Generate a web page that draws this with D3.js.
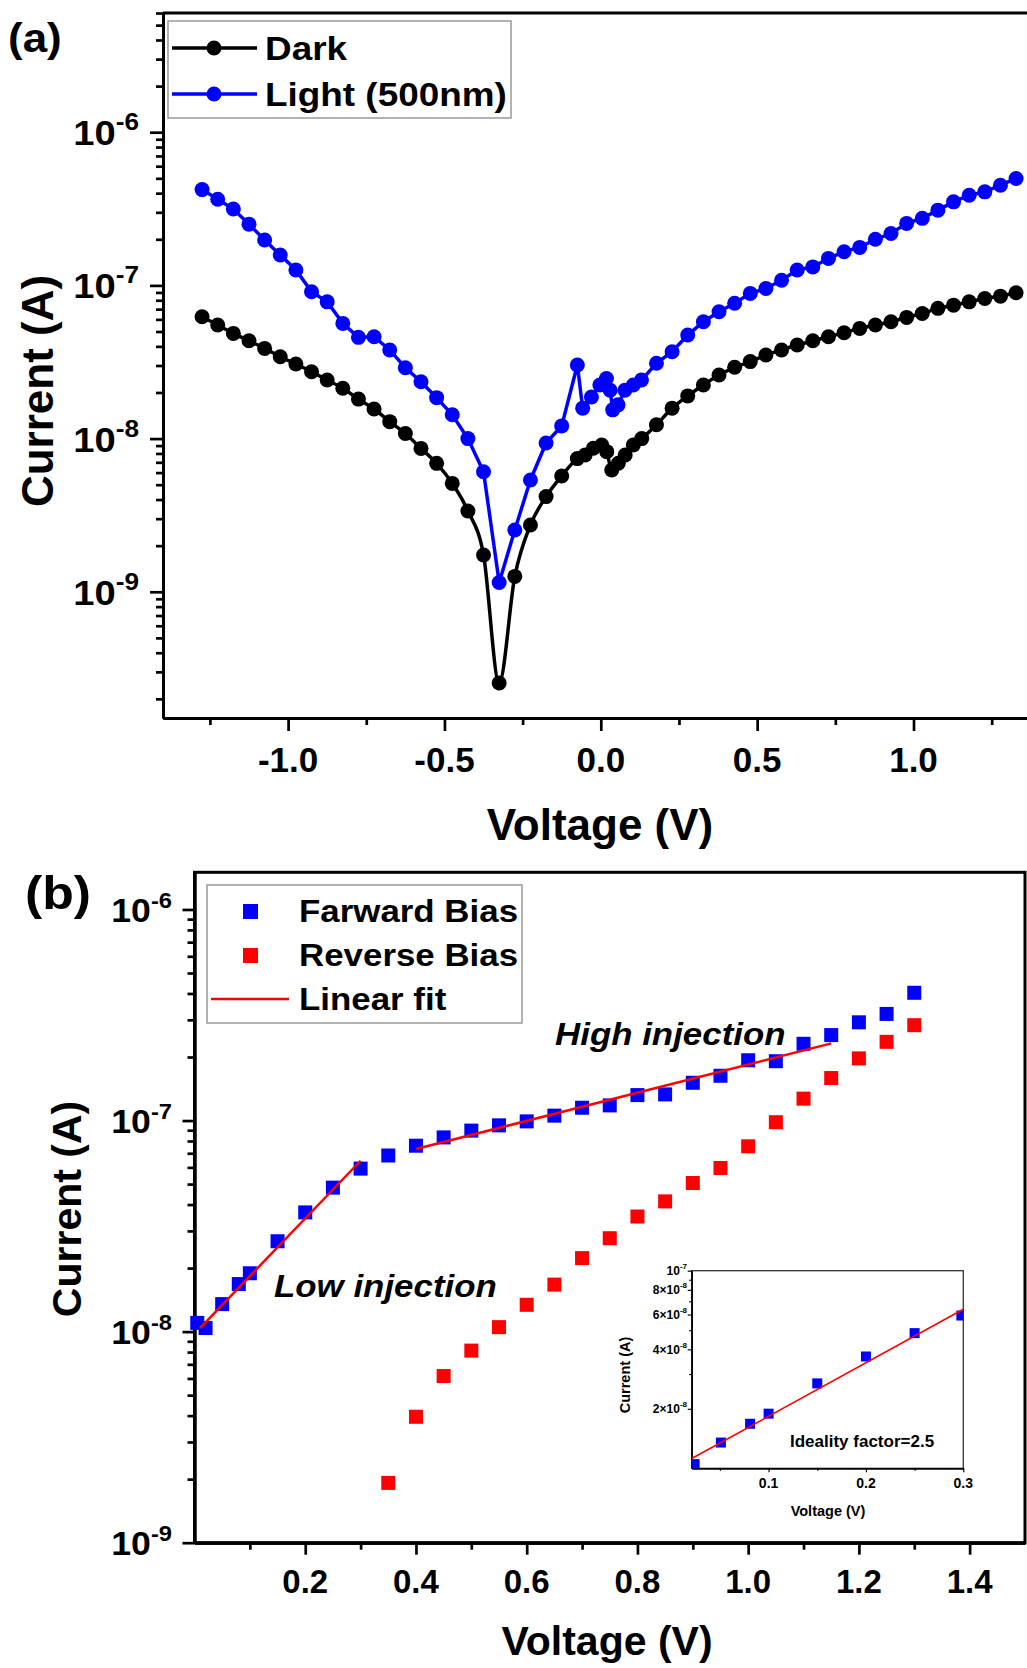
<!DOCTYPE html>
<html>
<head>
<meta charset="utf-8">
<script src="https://cdn.jsdelivr.net/npm/d3@7"></script>
<style>
  body { margin: 0; background: #fff; }
  svg { display: block; font-family: "Liberation Sans", Arial, sans-serif; font-weight: bold; }
</style>
</head>
<body>
<script>
// ---- panel (a): dark / light I-V sweep ----
const darkV = [-1.275,-1.225,-1.175,-1.125,-1.075,-1.025,-0.975,-0.925,-0.875,-0.825,-0.775,-0.725,-0.675,-0.625,-0.575,-0.525,-0.475,-0.425,-0.375,-0.325,
  -0.275,-0.225,-0.175,-0.125,-0.075,-0.05,-0.024,0.003,0.019,0.035,0.056,0.078,0.104,0.131,
  0.178,0.228,0.278,0.328,0.378,0.428,0.478,0.528,0.578,0.628,0.678,0.728,0.778,0.828,0.878,0.928,0.978,1.028,1.078,1.128,1.178,1.228,1.278,1.328];
const darkI = [6.24e-8,5.51e-8,4.86e-8,4.35e-8,3.88e-8,3.42e-8,3.07e-8,2.73e-8,2.41e-8,2.13e-8,1.81e-8,1.56e-8,1.29e-8,1.08e-8,8.63e-9,6.89e-9,5.10e-9,3.37e-9,1.74e-9,2.54e-10,
  1.26e-9,2.73e-9,4.18e-9,5.70e-9,7.4e-9,7.81e-9,8.65e-9,9.09e-9,8.22e-9,6.24e-9,6.90e-9,7.81e-9,9.09e-9,1.00e-8,
  1.23e-8,1.58e-8,1.90e-8,2.24e-8,2.60e-8,2.92e-8,3.18e-8,3.51e-8,3.79e-8,4.08e-8,4.35e-8,4.62e-8,4.91e-8,5.24e-8,5.51e-8,5.79e-8,6.18e-8,6.56e-8,7.08e-8,7.43e-8,7.81e-8,8.22e-8,8.51e-8,8.95e-8];

const lightV = [-1.275,-1.225,-1.175,-1.125,-1.075,-1.025,-0.975,-0.925,-0.875,-0.825,-0.775,-0.725,-0.675,-0.625,-0.575,-0.525,-0.475,-0.425,-0.375,-0.325,
  -0.275,-0.225,-0.175,-0.125,-0.075,-0.058,-0.03,-0.003,0.018,0.03,0.038,0.055,0.077,0.104,0.13,
  0.178,0.228,0.278,0.328,0.378,0.428,0.478,0.528,0.578,0.628,0.678,0.728,0.778,0.828,0.878,0.928,0.978,1.028,1.078,1.128,1.178,1.228,1.278,1.328];
const lightI = [4.22e-7,3.65e-7,3.15e-7,2.51e-7,1.98e-7,1.58e-7,1.26e-7,9.09e-8,7.81e-8,5.65e-8,4.58e-8,4.62e-8,3.79e-8,2.90e-8,2.35e-8,1.85e-8,1.43e-8,1.00e-8,6.08e-9,1.15e-9,
  2.53e-9,5.37e-9,9.35e-9,1.21e-8,3.02e-8,1.58e-8,1.87e-8,2.24e-8,2.47e-8,2.07e-8,1.54e-8,1.66e-8,2.07e-8,2.24e-8,2.41e-8,
  3.10e-8,3.69e-8,4.74e-8,5.79e-8,6.73e-8,7.64e-8,8.87e-8,9.55e-8,1.08e-7,1.26e-7,1.32e-7,1.50e-7,1.66e-7,1.77e-7,2.00e-7,2.18e-7,2.54e-7,2.74e-7,3.10e-7,3.51e-7,3.88e-7,4.08e-7,4.51e-7,4.99e-7];

const xTicksA = [-1.0, -0.5, 0.0, 0.5, 1.0];
const xMinorA = [-1.25, -0.75, -0.25, 0.25, 0.75, 1.25];
const yTicksA = [1e-9, 1e-8, 1e-7, 1e-6];

// ---- panel (b): forward / reverse bias ----
const forwardV = [0.005,0.02,0.05,0.08,0.1,0.15,0.2,0.25,0.3,0.35,0.4,0.45,0.5,0.55,0.6,0.65,0.7,0.75,0.8,0.85,0.9,0.95,1.0,1.05,1.1,1.15,1.2,1.25,1.3];
const forwardI = [1.1e-8,1.04e-8,1.35e-8,1.68e-8,1.89e-8,2.68e-8,3.67e-8,4.81e-8,5.92e-8,6.83e-8,7.60e-8,8.32e-8,8.96e-8,9.49e-8,9.91e-8,1.055e-7,1.15e-7,1.18e-7,1.32e-7,1.33e-7,1.51e-7,1.63e-7,1.93e-7,1.91e-7,2.31e-7,2.54e-7,2.92e-7,3.20e-7,4.03e-7];
const reverseV = [0.35,0.4,0.45,0.5,0.55,0.6,0.65,0.7,0.75,0.8,0.85,0.9,0.95,1.0,1.05,1.1,1.15,1.2,1.25,1.3];
const reverseI = [1.92e-9,3.95e-9,6.16e-9,8.13e-9,1.05e-8,1.34e-8,1.67e-8,2.23e-8,2.77e-8,3.51e-8,4.14e-8,5.06e-8,5.96e-8,7.55e-8,9.82e-8,1.27e-7,1.59e-7,1.97e-7,2.36e-7,2.83e-7];
const lowFitV = [0.01, 0.3];
const lowFitI = [1.04e-8, 6.45e-8];
const highFitV = [0.40, 1.15];
const highFitI = [7.33e-8, 2.32e-7];

const xTicksB = [0.2, 0.4, 0.6, 0.8, 1.0, 1.2, 1.4];
const xMinorB = [0.1, 0.3, 0.5, 0.7, 0.9, 1.1, 1.3];
const yTicksB = [1e-9, 1e-8, 1e-7, 1e-6];

// ---- inset ----
const insetV = [0.024,0.051,0.081,0.1,0.15,0.2,0.25,0.298];
const insetI = [1.05e-8,1.35e-8,1.68e-8,1.89e-8,2.69e-8,3.68e-8,4.83e-8,5.93e-8];
const insetFitV = [0.021, 0.3];
const insetFitI = [1.12e-8, 6.38e-8];
const insetXTicks = [0.1, 0.2, 0.3];
const insetXMinor = [0.05, 0.15, 0.25];
const insetYTicks = [2e-8, 4e-8, 6e-8, 8e-8, 1e-7];
const insetYLabels = [["2×10", "-8"], ["4×10", "-8"], ["6×10", "-8"], ["8×10", "-8"], ["10", "-7"]];

const BLUE = "#0000ff", RED = "#ff0000";
const STRETCH = 1.085; // the figure's lettering is a little wider than Arial

const svg = d3.select("body").append("svg")
    .attr("width", 1027)
    .attr("height", 1668);

// minor ticks of a log axis: 2..9 times each decade inside the domain
function logMinors(domain) {
    const out = [];
    const lo = Math.floor(Math.log10(domain[0])), hi = Math.ceil(Math.log10(domain[1]));
    for (let k = lo; k <= hi; k++) {
        for (let m = 2; m <= 9; m++) {
            const v = m * Math.pow(10, k);
            if (v >= domain[0] && v <= domain[1]) out.push(v);
        }
    }
    return out;
}

function drawAxis(parent, axisMaker, scale, major, minor, bigLen, smallLen, sw) {
    const g1 = parent.append("g")
        .call(axisMaker(scale).tickValues(minor).tickSize(smallLen).tickSizeOuter(0).tickFormat(""));
    const g2 = parent.append("g")
        .call(axisMaker(scale).tickValues(major).tickSize(bigLen).tickSizeOuter(0).tickFormat(""));
    [g1, g2].forEach(g => {
        g.selectAll("path").attr("stroke", "#000").attr("stroke-width", sw);
        g.selectAll("line").attr("stroke", "#000").attr("stroke-width", sw * 0.9);
    });
}

// text stretched horizontally around its anchor point
function wideText(parent, x, y, size, str, sx) {
    return parent.append("text")
        .attr("transform", `translate(${x},${y}) scale(${sx || STRETCH},1)`)
        .style("font-size", size + "px")
        .text(str);
}

function supLabel(parent, x, y, base, sup, size, supSize, rise, sx) {
    const t = parent.append("text")
        .attr("transform", `translate(${x},${y}) scale(${sx},1)`)
        .attr("text-anchor", "end")
        .style("font-size", size + "px");
    t.append("tspan").text(base);
    t.append("tspan").attr("dy", -rise).style("font-size", supSize + "px").text(sup);
}

// =================== Panel (a) ===================
const xA = d3.scaleLinear().domain([-1.4, 1.4]).range([163, 1038.6]);
const yA = d3.scaleLog().domain([1.5e-10, 6e-6]).range([718, 13]);

const gA = svg.append("g");
gA.append("line").attr("x1", 163).attr("x2", 1040).attr("y1", 13).attr("y2", 13)
    .attr("stroke", "#000").attr("stroke-width", 3);

const axA_y = gA.append("g").attr("transform", "translate(163,0)");
drawAxis(axA_y, d3.axisLeft, yA, yTicksA, logMinors(yA.domain()), 13, 7, 3);
const axA_x = gA.append("g").attr("transform", "translate(0,718)");
drawAxis(axA_x, d3.axisBottom, xA, xTicksA, xMinorA, 13, 7, 3);

xTicksA.forEach(v => {
    gA.append("text").attr("x", xA(v)).attr("y", 772)
        .attr("text-anchor", "middle").style("font-size", "35px")
        .text(v.toFixed(1));
});
yTicksA.forEach(v => {
    supLabel(gA, 139, yA(v) + 13, "10", String(Math.round(Math.log10(v))), 35, 24, 15, 1.09);
});

gA.append("text").attr("transform", "translate(53,391) rotate(-90)")
    .attr("text-anchor", "middle").style("font-size", "44px").text("Current (A)");
gA.append("text").attr("x", 600).attr("y", 840)
    .attr("text-anchor", "middle").style("font-size", "44px").text("Voltage (V)");
wideText(gA, 8, 52, 40, "(a)", 1.1);

const lineDark = d3.line().x(i => xA(darkV[i])).y(i => yA(darkI[i])).curve(d3.curveMonotoneX);
const lineLight = d3.line().x(i => xA(lightV[i])).y(i => yA(lightI[i]));

gA.append("path").attr("d", lineDark(d3.range(darkV.length)))
    .attr("fill", "none").attr("stroke", "#000").attr("stroke-width", 3.5);
gA.selectAll("circle.dark").data(d3.range(darkV.length)).enter().append("circle")
    .attr("class", "dark").attr("cx", i => xA(darkV[i])).attr("cy", i => yA(darkI[i]))
    .attr("r", 7.5).attr("fill", "#000");

gA.append("path").attr("d", lineLight(d3.range(lightV.length)))
    .attr("fill", "none").attr("stroke", BLUE).attr("stroke-width", 3.5);
gA.selectAll("circle.light").data(d3.range(lightV.length)).enter().append("circle")
    .attr("class", "light").attr("cx", i => xA(lightV[i])).attr("cy", i => yA(lightI[i]))
    .attr("r", 7.5).attr("fill", BLUE);

// legend (a)
const legA = gA.append("g");
legA.append("rect").attr("x", 168).attr("y", 21).attr("width", 343).attr("height", 97)
    .attr("fill", "#fff").attr("stroke", "#999").attr("stroke-width", 1.5);
[["Dark", "#000", 48, 60], ["Light (500nm)", BLUE, 94, 106]].forEach(([label, col, ly, ty]) => {
    legA.append("line").attr("x1", 172).attr("x2", 257).attr("y1", ly).attr("y2", ly)
        .attr("stroke", col).attr("stroke-width", 3.5);
    legA.append("circle").attr("cx", 214).attr("cy", ly).attr("r", 7.5).attr("fill", col);
    wideText(legA, 265, ty, 34, label);
});

// =================== Panel (b) ===================
const xB = d3.scaleLinear().domain([0, 1.5]).range([194.5, 1025]);
const yB = d3.scaleLog().domain([1e-9, 1.5e-6]).range([1542.7, 872.3]);

const gB = svg.append("g");
gB.append("rect").attr("x", 194.5).attr("y", 872.3).attr("width", 1025 - 194.5).attr("height", 1542.7 - 872.3)
    .attr("fill", "none").attr("stroke", "#000").attr("stroke-width", 3);

const axB_y = gB.append("g").attr("transform", "translate(194.5,0)");
drawAxis(axB_y, d3.axisLeft, yB, yTicksB, logMinors(yB.domain()), 12, 7, 3);
const axB_x = gB.append("g").attr("transform", "translate(0,1542.7)");
drawAxis(axB_x, d3.axisBottom, xB, xTicksB, xMinorB, 12, 7, 3);

xTicksB.forEach(v => {
    gB.append("text").attr("x", xB(v)).attr("y", 1593)
        .attr("text-anchor", "middle").style("font-size", "33px")
        .text(v.toFixed(1));
});
yTicksB.forEach(v => {
    supLabel(gB, 172, yB(v) + 12.5, "10", String(Math.round(Math.log10(v))), 33, 22, 14, 1.08);
});

gB.append("text").attr("transform", "translate(81,1209) rotate(-90)")
    .attr("text-anchor", "middle").style("font-size", "41px").text("Current (A)");
gB.append("text").attr("x", 607).attr("y", 1655)
    .attr("text-anchor", "middle").style("font-size", "41px").text("Voltage (V)");
wideText(gB, 25, 909, 47, "(b)", 1.1);

// squares
const sq = 14;
gB.selectAll("rect.rev").data(d3.range(reverseV.length)).enter().append("rect")
    .attr("class", "rev")
    .attr("x", i => xB(reverseV[i]) - sq / 2).attr("y", i => yB(reverseI[i]) - sq / 2)
    .attr("width", sq).attr("height", sq).attr("fill", RED);
gB.selectAll("rect.fwd").data(d3.range(forwardV.length)).enter().append("rect")
    .attr("class", "fwd")
    .attr("x", i => xB(forwardV[i]) - sq / 2).attr("y", i => yB(forwardI[i]) - sq / 2)
    .attr("width", sq).attr("height", sq).attr("fill", BLUE);

const fitLineB = (vs, is) => d3.line().x(i => xB(vs[i])).y(i => yB(is[i]))(d3.range(vs.length));
gB.append("path").attr("d", fitLineB(lowFitV, lowFitI)).attr("stroke", RED).attr("stroke-width", 2.5).attr("fill", "none");
gB.append("path").attr("d", fitLineB(highFitV, highFitI)).attr("stroke", RED).attr("stroke-width", 2.5).attr("fill", "none");

wideText(gB, 555, 1045, 32, "High injection", 1.09).style("font-style", "italic");
wideText(gB, 274, 1297, 32, "Low injection", 1.09).style("font-style", "italic");

// legend (b)
const legB = gB.append("g");
legB.append("rect").attr("x", 207).attr("y", 885).attr("width", 315).attr("height", 138)
    .attr("fill", "#fff").attr("stroke", "#999").attr("stroke-width", 1.5);
legB.append("rect").attr("x", 243).attr("y", 904).attr("width", 15).attr("height", 15).attr("fill", BLUE);
legB.append("rect").attr("x", 243).attr("y", 948).attr("width", 15).attr("height", 15).attr("fill", RED);
legB.append("line").attr("x1", 211).attr("x2", 289).attr("y1", 999).attr("y2", 999).attr("stroke", RED).attr("stroke-width", 2.5);
[["Farward Bias", 922], ["Reverse Bias", 966], ["Linear fit", 1010]].forEach(([t, y]) => {
    wideText(legB, 299, y, 32, t, 1.09);
});

// =================== Inset ===================
const xI = d3.scaleLinear().domain([0.021, 0.3]).range([691.7, 963.3]);
const yI = d3.scaleLog().domain([1e-8, 1e-7]).range([1468.3, 1270.7]);
const gI = svg.append("g");
gI.append("defs").append("clipPath").attr("id", "insetClip")
    .append("rect").attr("x", 691.7).attr("y", 1270.7).attr("width", 963.3 - 691.7).attr("height", 1468.3 - 1270.7);
gI.append("rect").attr("x", 691.7).attr("y", 1270.7).attr("width", 963.3 - 691.7).attr("height", 1468.3 - 1270.7)
    .attr("fill", "#fff").attr("stroke", "#333").attr("stroke-width", 1.3);

const axI_y = gI.append("g").attr("transform", "translate(691.7,0)");
drawAxis(axI_y, d3.axisLeft, yI, insetYTicks, [3e-8, 5e-8, 7e-8, 9e-8], 4, 2.5, 1.3);
const axI_x = gI.append("g").attr("transform", "translate(0,1468.3)");
drawAxis(axI_x, d3.axisBottom, xI, insetXTicks, insetXMinor, 4, 2.5, 1.3);

insetXTicks.forEach(v => {
    gI.append("text").attr("x", xI(v)).attr("y", 1488).attr("text-anchor", "middle")
        .style("font-size", "14px").text(v.toFixed(1));
});
insetYTicks.forEach((v, k) => {
    supLabel(gI, 687, yI(v) + 4.5, insetYLabels[k][0], insetYLabels[k][1], 12, 8, 6, 1);
});
gI.append("text").attr("x", 828).attr("y", 1516).attr("text-anchor", "middle")
    .style("font-size", "14.5px").text("Voltage (V)");
gI.append("text").attr("transform", "translate(630,1375) rotate(-90)").attr("text-anchor", "middle")
    .style("font-size", "14.5px").text("Current (A)");

const gIc = gI.append("g").attr("clip-path", "url(#insetClip)");
gIc.selectAll("rect.pt").data(d3.range(insetV.length)).enter().append("rect")
    .attr("class", "pt")
    .attr("x", i => xI(insetV[i]) - 5).attr("y", i => yI(insetI[i]) - 5)
    .attr("width", 10).attr("height", 10).attr("fill", BLUE);
gIc.append("path")
    .attr("d", d3.line().x(i => xI(insetFitV[i])).y(i => yI(insetFitI[i]))(d3.range(insetFitV.length)))
    .attr("stroke", RED).attr("stroke-width", 1.6).attr("fill", "none");
gI.append("text").attr("x", 790).attr("y", 1447).style("font-size", "17px").text("Ideality factor=2.5");
</script>
</body>
</html>
